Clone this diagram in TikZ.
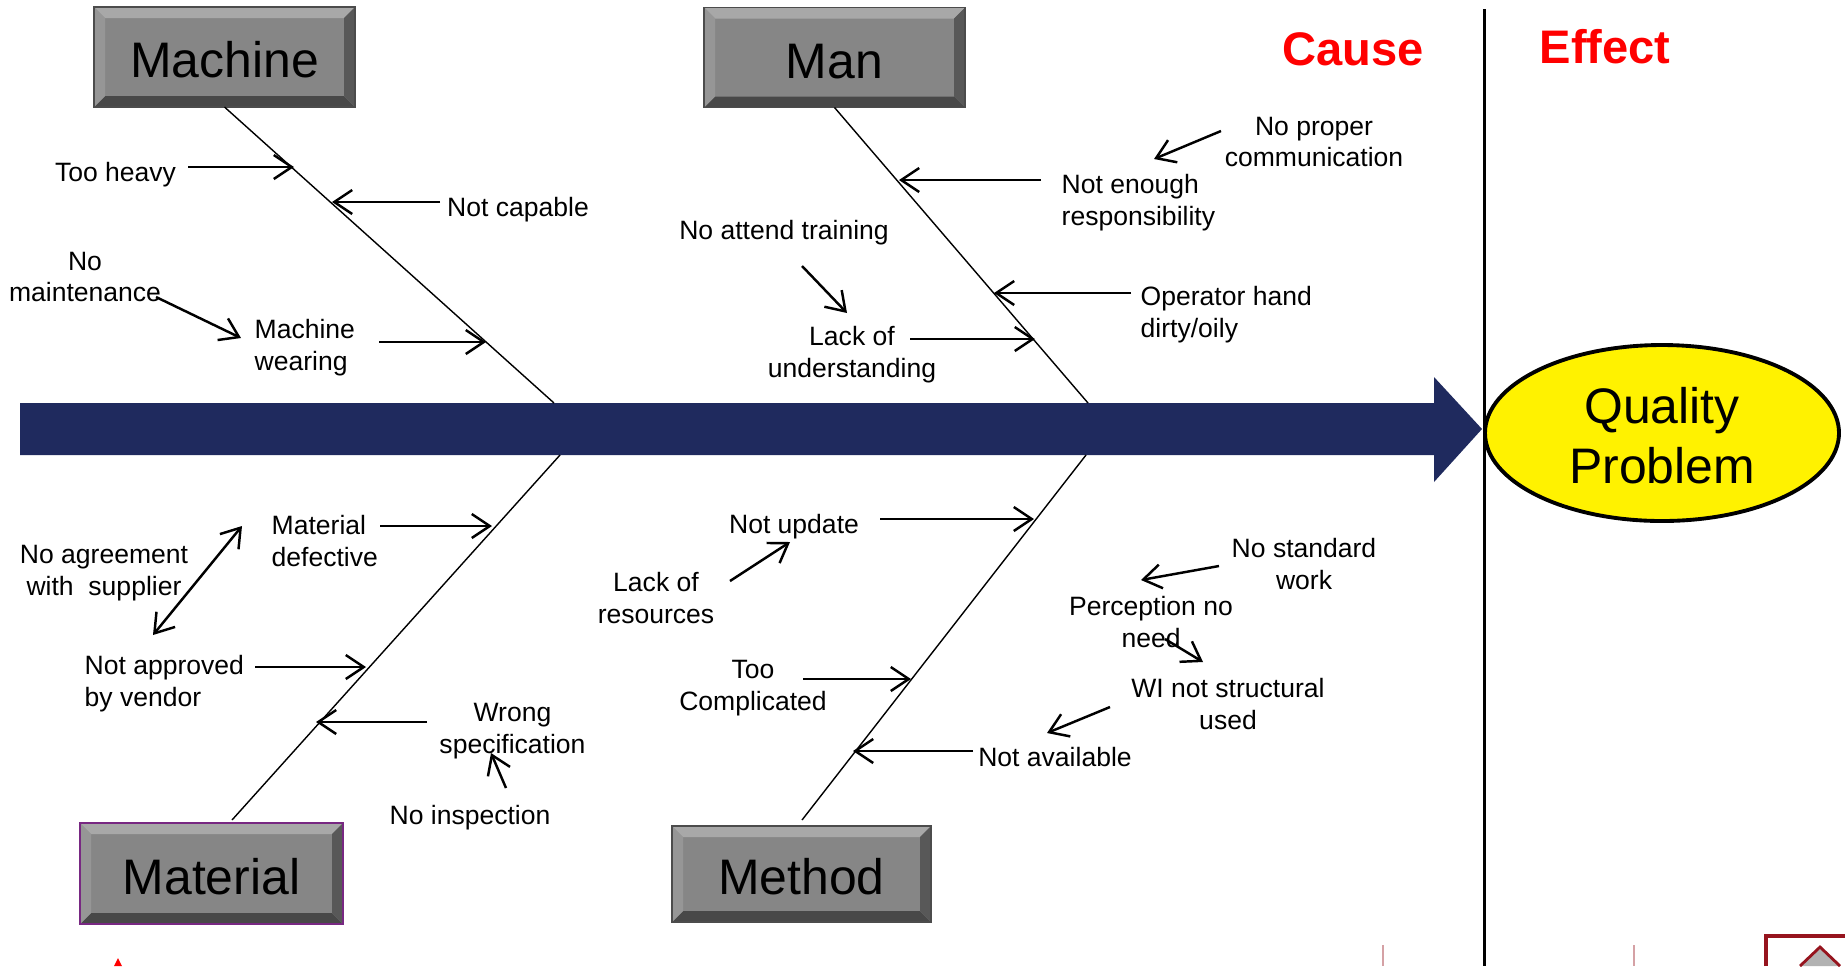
\documentclass[tikz,border=0pt]{standalone}
\usepackage{fontspec}
\setmainfont{Liberation Sans}
\usepackage{xcolor}
\usepackage{tikz}
\usetikzlibrary{arrows.meta}
\usetikzlibrary{shapes.geometric}

\definecolor{shaftblue}{RGB}{31,42,94}
\definecolor{facegray}{RGB}{134,134,134}
\definecolor{bevtop}{RGB}{168,168,168}
\definecolor{bevleft}{RGB}{150,150,150}
\definecolor{bevright}{RGB}{88,88,88}
\definecolor{bevbottom}{RGB}{72,72,72}
\definecolor{matpurple}{RGB}{120,40,130}
\definecolor{pagered}{RGB}{150,20,30}

\newcommand{\ppb}{path picture bounding box}

\tikzset{
    catbox/.style={rectangle, draw=black!70, fill=facegray, minimum width=2.61cm,
        minimum height=1cm, inner sep=0pt, outer sep=0pt,
        text height=11.8pt, text depth=0pt,
        font=\fontsize{14.2}{17}\selectfont,
        path picture={
            \fill[bevtop] (\ppb.north west) -- (\ppb.north east) -- ([shift={(-0.11,-0.11)}]\ppb.north east) -- ([shift={(0.11,-0.11)}]\ppb.north west) -- cycle;
            \fill[bevbottom] (\ppb.south west) -- (\ppb.south east) -- ([shift={(-0.11,0.11)}]\ppb.south east) -- ([shift={(0.11,0.11)}]\ppb.south west) -- cycle;
            \fill[bevleft] (\ppb.north west) -- ([shift={(0.11,-0.11)}]\ppb.north west) -- ([shift={(0.11,0.11)}]\ppb.south west) -- (\ppb.south west) -- cycle;
            \fill[bevright] (\ppb.north east) -- ([shift={(-0.11,-0.11)}]\ppb.north east) -- ([shift={(-0.11,0.11)}]\ppb.south east) -- (\ppb.south east) -- cycle;
        }},
    reason/.style={font=\fontsize{7.55}{9.05}\selectfont, align=center, inner sep=0pt},
    bone/.style={line width=0.4pt},
    link/.style={->, line width=0.7pt},
    heading/.style={font=\fontsize{13.4}{16}\selectfont\bfseries, text=red},
    >={Straight Barb[length=1.8mm, width=2.4mm]}}

\begin{document}
\begin{tikzpicture}

        \useasboundingbox (0,0) rectangle (18.45,-9.66);

        % backbone arrow
        \fill[shaftblue] (0.20,-4.03) -- (14.34,-4.03) -- (14.34,-3.77) -- (14.82,-4.29)
            -- (14.34,-4.82) -- (14.34,-4.55) -- (0.20,-4.55) -- cycle;

        \coordinate (divtop) at (14.84,-0.09);
        \coordinate (divbot) at (14.84,-9.66);
        \draw[line width=0.85pt] (divtop) -- (divbot);

        \node[heading] (cause) at (13.53,-0.49) {Cause};
        \node[heading] (effect) at (16.05,-0.47) {Effect};

        \node[ellipse, draw=black, line width=1.1pt, fill=yellow, minimum width=3.54cm,
            minimum height=1.76cm, inner sep=0pt, align=center,
            font=\fontsize{14.2}{17}\selectfont] (quality) at (16.62,-4.33) {\rule{0pt}{11.6pt}Quality\\Problem};

        % categories
        \node[catbox] (machine) at (2.245,-0.57) {Machine};
        \node[catbox] (man) at (8.345,-0.575) {Man};
        \node[catbox, draw=matpurple, line width=0.8pt, minimum width=2.63cm,
            minimum height=1.01cm] (material) at (2.115,-8.735) {Material};
        \node[catbox, minimum width=2.59cm, minimum height=0.96cm] (method) at (8.015,-8.74) {Method};

        \coordinate (machjoin) at (5.54,-4.03);
        \coordinate (manjoin) at (10.88,-4.03);
        \coordinate (matjoin) at (5.60,-4.55);
        \coordinate (matfoot) at (2.32,-8.20);
        \coordinate (methjoin) at (10.86,-4.55);
        \coordinate (methfoot) at (8.02,-8.20);

        \draw[bone] (machine.south) -- (machjoin);
        \draw[bone] (man.south) -- (manjoin);
        \draw[bone] (matjoin) -- (matfoot);
        \draw[bone] (methjoin) -- (methfoot);

        % machine
        \node[reason] (heavy) at (1.155,-1.745) {Too heavy};
        \node[reason] (capable) at (5.18,-2.10) {Not capable};
        \node[reason] (maint) at (0.85,-2.77) {No\\maintenance};
        \node[reason, align=left, anchor=west] (wearing) at (2.54,-3.48) {Machine\\wearing};

        \coordinate (heavy1) at (1.88,-1.67);
        \coordinate (heavy2) at (2.94,-1.67);
        \coordinate (capable1) at (4.40,-2.02);
        \coordinate (capable2) at (3.32,-2.02);
        \coordinate (maint1) at (1.56,-2.97);
        \coordinate (maint2) at (2.41,-3.38);
        \coordinate (wearing1) at (3.79,-3.42);
        \coordinate (wearing2) at (4.86,-3.42);

        \draw[link] (heavy1) -- (heavy2);
        \draw[link] (capable1) -- (capable2);
        \draw[link] (maint1) -- (maint2);
        \draw[link] (wearing1) -- (wearing2);

        % man
        \node[reason] (commun) at (13.14,-1.42) {No proper\\communication};
        \node[reason, align=left, anchor=west] (respons) at (10.61,-2.03) {Not enough\\responsibility};
        \node[reason] (training) at (7.84,-2.33) {No attend training};
        \node[reason] (underst) at (8.52,-3.55) {Lack of\\understanding};
        \node[reason, align=left, anchor=west] (operator) at (11.40,-3.15) {Operator hand\\dirty/oily};

        \coordinate (commun1) at (12.21,-1.31);
        \coordinate (commun2) at (11.54,-1.59);
        \coordinate (respons1) at (10.41,-1.80);
        \coordinate (respons2) at (8.99,-1.80);
        \coordinate (training1) at (8.02,-2.66);
        \coordinate (training2) at (8.47,-3.13);
        \coordinate (underst1) at (9.10,-3.39);
        \coordinate (underst2) at (10.35,-3.39);
        \coordinate (operator1) at (11.31,-2.93);
        \coordinate (operator2) at (9.94,-2.93);

        \draw[link] (commun1) -- (commun2);
        \draw[link] (respons1) -- (respons2);
        \draw[link] (training1) -- (training2);
        \draw[link] (underst1) -- (underst2);
        \draw[link] (operator1) -- (operator2);

        % material
        \node[reason, align=left, anchor=west] (defect) at (2.71,-5.41) {Material\\defective};
        \node[reason] (agree) at (1.04,-5.73) {No agreement\\with\ \ supplier};
        \node[reason, align=left, anchor=west] (approved) at (0.84,-6.84) {Not approved\\by vendor};
        \node[reason] (spec) at (5.125,-7.31) {Wrong\\specification};
        \node[reason] (inspect) at (4.70,-8.18) {No inspection};

        \coordinate (defect1) at (3.80,-5.26);
        \coordinate (defect2) at (4.92,-5.26);
        \coordinate (agree1) at (1.53,-6.35);
        \coordinate (agree2) at (2.42,-5.26);
        \coordinate (approved1) at (2.55,-6.67);
        \coordinate (approved2) at (3.66,-6.67);
        \coordinate (spec1) at (4.27,-7.22);
        \coordinate (spec2) at (3.16,-7.22);
        \coordinate (inspect1) at (5.06,-7.88);
        \coordinate (inspect2) at (4.91,-7.53);

        \draw[link] (defect1) -- (defect2);
        \draw[link, <->] (agree1) -- (agree2);
        \draw[link] (approved1) -- (approved2);
        \draw[link] (spec1) -- (spec2);
        \draw[link] (inspect1) -- (inspect2);

        % method
        \node[reason] (update) at (7.94,-5.27) {Not update};
        \node[reason] (resource) at (6.56,-5.98) {Lack of\\resources};
        \node[reason] (complic) at (7.53,-6.88) {Too\\Complicated};
        \node[reason] (avail) at (10.55,-7.57) {Not available};
        \node[reason] (standard) at (13.04,-5.64) {No standard\\work};
        \node[reason] (percept) at (11.51,-6.22) {Perception no\\need};
        \node[reason] (wi) at (12.28,-7.04) {WI not structural\\used};

        \coordinate (update1) at (8.80,-5.19);
        \coordinate (update2) at (10.34,-5.19);
        \coordinate (resource1) at (7.30,-5.81);
        \coordinate (resource2) at (7.90,-5.42);
        \coordinate (complic1) at (8.03,-6.79);
        \coordinate (complic2) at (9.11,-6.79);
        \coordinate (avail1) at (9.73,-7.51);
        \coordinate (avail2) at (8.53,-7.51);
        \coordinate (standard1) at (12.19,-5.66);
        \coordinate (standard2) at (11.41,-5.80);
        \coordinate (percept1) at (11.65,-6.39);
        \coordinate (percept2) at (12.03,-6.62);
        \coordinate (wi1) at (11.10,-7.07);
        \coordinate (wi2) at (10.47,-7.33);

        \draw[link] (update1) -- (update2);
        \draw[link] (resource1) -- (resource2);
        \draw[link] (complic1) -- (complic2);
        \draw[link] (avail1) -- (avail2);
        \draw[link] (standard1) -- (standard2);
        \draw[link] (percept1) -- (percept2);
        \draw[link] (wi1) -- (wi2);

        % cut-off page edge
        \draw[pagered!40, line width=0.3pt] (13.83,-9.45) -- (13.83,-9.66);
        \draw[pagered!40, line width=0.3pt] (16.34,-9.45) -- (16.34,-9.66);
        \draw[pagered, line width=1.4pt] (17.66,-9.66) |- (18.45,-9.36);
        \filldraw[fill=gray!60, draw=pagered, line width=0.8pt] (18.00,-9.66) -- (18.20,-9.47) -- (18.40,-9.66);
        \fill[red] (1.14,-9.66) -- (1.18,-9.58) -- (1.22,-9.66) -- cycle;

    \end{tikzpicture}
\end{document}
